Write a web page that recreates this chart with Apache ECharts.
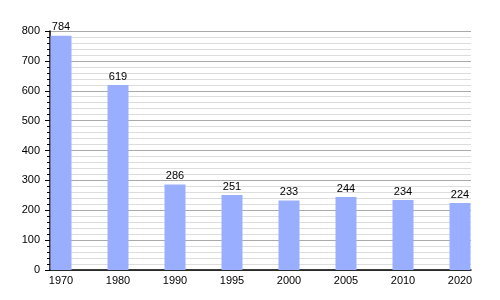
<!DOCTYPE html>
<html>
<head>
<meta charset="utf-8">
<script src="https://cdn.jsdelivr.net/npm/echarts@6/dist/echarts.min.js"></script>
<style>html,body{margin:0;padding:0;background:#fff;}#c{width:500px;height:300px;}</style>
</head>
<body>
<div id="c"></div>
<script>
const categories = ['1970', '1980', '1990', '1995', '2000', '2005', '2010', '2020'];
const population = [784, 619, 286, 251, 233, 244, 234, 224];
const yTicks = [0, 100, 200, 300, 400, 500, 600, 700, 800];

const positions = categories.map((c, i) => i);
const chart = echarts.init(document.getElementById('c'), null, {renderer: 'canvas'});
const font = 'Liberation Sans, Arial, sans-serif';
chart.setOption({
  animation: false,
  backgroundColor: '#fff',
  grid: {left: 50, right: 29, top: 31, bottom: 30, containLabel: false},
  xAxis: {
    type: 'value',
    min: -0.193,
    max: 7.193,
    axisLine: {show: true, onZero: false, lineStyle: {color: '#000', width: 1.5}},
    axisTick: {show: false},
    splitLine: {show: false},
    axisLabel: {
      customValues: positions,
      formatter: v => categories[Math.round(v)],
      color: '#000', fontFamily: font, fontSize: 11, margin: 5
    }
  },
  yAxis: {
    type: 'value',
    min: yTicks[0],
    max: yTicks[yTicks.length - 1],
    interval: 100,
    axisLine: {show: true, onZero: false, lineStyle: {color: '#000', width: 1.5}},
    axisTick: {show: true, inside: false, length: 5, lineStyle: {color: '#000'}},
    minorTick: {show: true, splitNumber: 5, length: 3, lineStyle: {color: '#000'}},
    splitLine: {show: true, lineStyle: {color: '#aaaaaa', width: 1}},
    minorSplitLine: {show: true, lineStyle: {color: '#dddddd', width: 1}},
    axisLabel: {color: '#000', fontFamily: font, fontSize: 11, margin: 10}
  },
  series: [{
    type: 'bar',
    data: population.map((v, i) => [positions[i], v]),
    barWidth: 21,
    itemStyle: {color: '#99aeff'},
    label: {show: true, position: 'top', distance: 3, color: '#000', fontFamily: font, fontSize: 11}
  }]
});
</script>
</body>
</html>
